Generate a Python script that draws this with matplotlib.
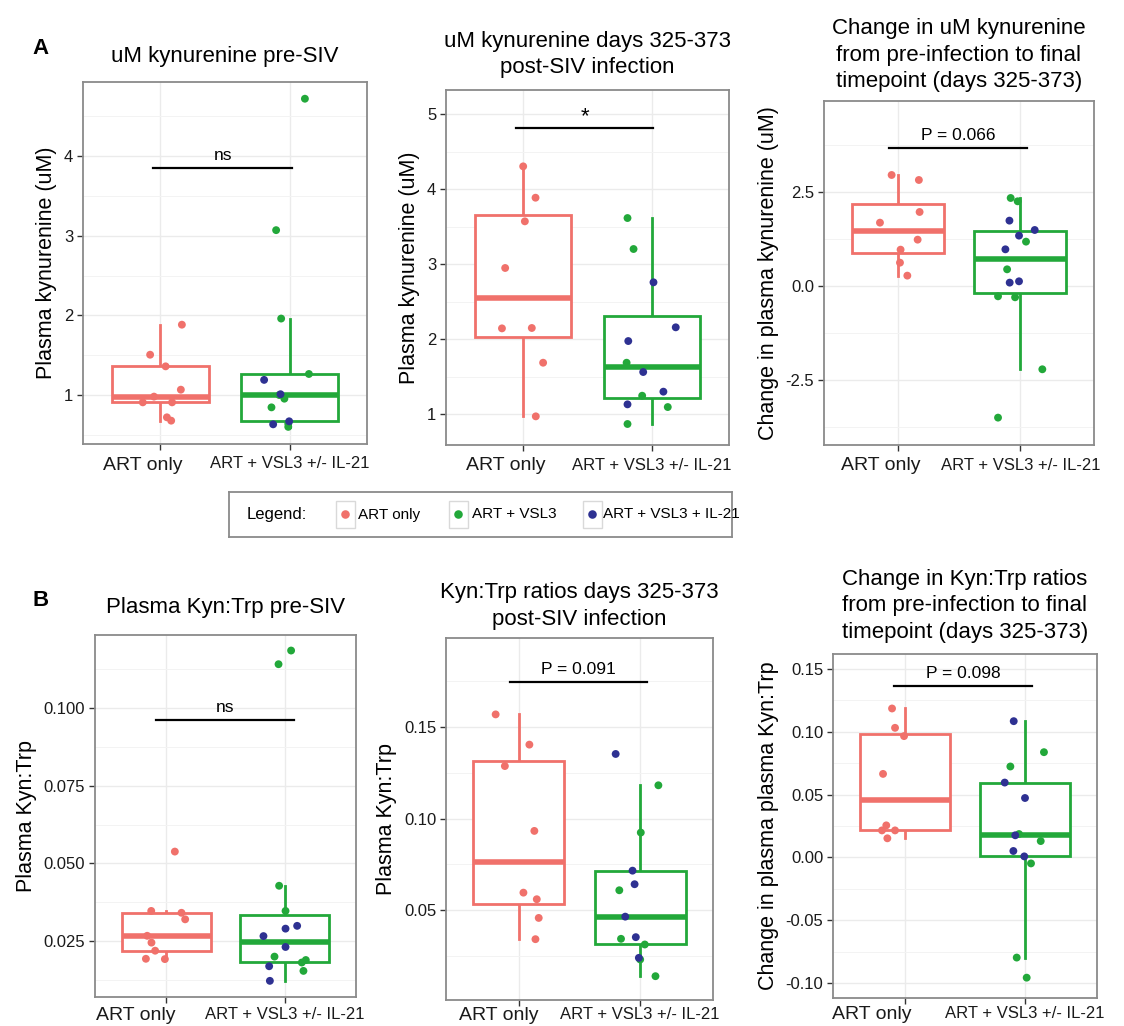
import matplotlib.pyplot as plt
import matplotlib.transforms as mtransforms
from matplotlib.patches import Rectangle
import numpy as np

plt.rcParams['font.family'] = ['Liberation Sans', 'DejaVu Sans']

RED = '#F0716B'
GREEN = '#22A83A'
BLUE = '#2E3192'
W, H = 1124, 1026

categories = ['ART only', 'ART + VSL3 +/- IL-21']
legend_labels = ['ART only', 'ART + VSL3', 'ART + VSL3 + IL-21']

# --- A1 : uM kynurenine pre-SIV
a1_art = [1.883, 1.506, 1.36, 1.067, 0.98, 0.908, 0.908, 0.72, 0.678]
a1_art_dx = [0.166, -0.08, 0.04, 0.158, -0.05, -0.137, 0.09, 0.05, 0.083]
a1_combo = [4.72, 3.07, 1.96, 1.264, 1.19, 1.01, 1.0, 0.954, 0.845, 0.67, 0.64, 0.632, 0.60]
a1_grp = ['G', 'G', 'G', 'G', 'B', 'B', 'G', 'G', 'G', 'B', 'G', 'B', 'G']
a1_combo_dx = [0.119, -0.104, -0.065, 0.15, -0.197, -0.07, -0.08, -0.04, -0.14, -0.003, -0.01, -0.127, -0.01]

# --- A2 : uM kynurenine days 325-373
a2_art = [4.302, 3.884, 3.569, 2.947, 2.142, 2.147, 1.684, 0.969]
a2_art_dx = [0.0, 0.096, 0.013, -0.14, -0.165, 0.067, 0.155, 0.098]
a2_combo = [3.613, 3.2, 2.756, 2.156, 1.973, 1.684, 1.56, 1.298, 1.244, 1.129, 1.093, 0.867]
a2_grp = ['G', 'G', 'B', 'B', 'B', 'G', 'B', 'B', 'G', 'B', 'G', 'G']
a2_combo_dx = [-0.189, -0.142, 0.013, 0.186, -0.183, -0.196, -0.067, 0.09, -0.075, -0.189, 0.124, -0.189]

# --- A3 : change in uM kynurenine
a3_art = [2.952, 2.819, 1.968, 1.684, 1.232, 0.966, 0.62, 0.275]
a3_art_dx = [-0.049, 0.173, 0.179, -0.144, 0.163, 0.024, 0.019, 0.079]
a3_combo = [2.34, 2.252, 1.738, 1.489, 1.339, 1.179, 0.975, 0.443, 0.089, 0.124, -0.275, -0.301, -2.216, -3.502]
a3_grp = ['G', 'G', 'B', 'B', 'B', 'G', 'B', 'G', 'B', 'B', 'G', 'G', 'G', 'G']
a3_combo_dx = [-0.079, -0.022, -0.089, 0.117, -0.011, 0.046, -0.122, -0.108, -0.087, -0.011, -0.182, -0.043, 0.179, -0.182]

# --- B1 : Kyn:Trp pre-SIV
b1_art = [0.0538, 0.0347, 0.0341, 0.0320, 0.0267, 0.0245, 0.0219, 0.0193, 0.0192]
b1_art_dx = [0.073, -0.126, 0.129, 0.16, -0.16, -0.124, -0.093, -0.171, -0.011]
b1_combo = [0.1185, 0.1141, 0.0428, 0.0347, 0.0299, 0.0290, 0.0266, 0.0231, 0.0200, 0.0189, 0.0181, 0.0169, 0.0154, 0.0122]
b1_grp = ['G', 'G', 'G', 'G', 'B', 'B', 'B', 'B', 'G', 'G', 'G', 'B', 'G', 'B']
b1_combo_dx = [0.053, -0.053, -0.048, 0.006, 0.104, 0.006, -0.18, 0.006, -0.087, 0.177, 0.143, -0.132, 0.157, -0.126]

# --- B2 : Kyn:Trp days 325-373
b2_art = [0.1569, 0.1404, 0.1287, 0.0933, 0.0596, 0.0560, 0.0458, 0.0342]
b2_art_dx = [-0.191, 0.087, -0.115, 0.128, 0.038, 0.148, 0.164, 0.137]
b2_combo = [0.1353, 0.1182, 0.0924, 0.0716, 0.0642, 0.0609, 0.0465, 0.0353, 0.0344, 0.0313, 0.0240, 0.0231, 0.0140]
b2_grp = ['B', 'G', 'G', 'B', 'B', 'G', 'B', 'B', 'G', 'G', 'B', 'G', 'G']
b2_combo_dx = [-0.202, 0.15, 0.005, -0.063, -0.046, -0.172, -0.123, -0.036, -0.158, 0.038, -0.011, 0.0, 0.126]

# --- B3 : change in Kyn:Trp
b3_art = [0.1186, 0.1032, 0.0966, 0.0665, 0.0255, 0.0215, 0.0215, 0.0152]
b3_art_dx = [-0.108, -0.083, -0.008, -0.183, -0.156, -0.192, -0.083, -0.147]
b3_combo = [0.1085, 0.0838, 0.0724, 0.0596, 0.0473, 0.0176, 0.0186, 0.0130, 0.0051, 0.0008, -0.0048, -0.0798, -0.0958]
b3_grp = ['B', 'G', 'G', 'B', 'B', 'B', 'G', 'G', 'B', 'B', 'G', 'G', 'G']
b3_combo_dx = [-0.094, 0.158, -0.122, -0.169, 0.0, -0.081, -0.05, 0.131, -0.097, -0.006, 0.05, -0.069, 0.014]

panels = [
    dict(box=(83, 82, 367, 444), data=(a1_art, a1_art_dx, a1_combo, a1_grp, a1_combo_dx),
         title='uM kynurenine pre-SIV', pad=14.5, ylabel='Plasma kynurenine (uM)',
         ylim=(0.385, 4.93), ticks=[1, 2, 3, 4], labels=['1', '2', '3', '4'],
         minor=[0.5, 1.5, 2.5, 3.5, 4.5], sig=(0.946, 2.016, 3.85, 'ns'), xpad=5, xoff=-18),
    dict(box=(446, 90, 729, 445), data=(a2_art, a2_art_dx, a2_combo, a2_grp, a2_combo_dx),
         title='uM kynurenine days 325-373\npost-SIV infection', pad=12, ylabel='Plasma kynurenine (uM)',
         ylim=(0.587, 5.32), ticks=[1, 2, 3, 4, 5], labels=['1', '2', '3', '4', '5'],
         minor=[1.5, 2.5, 3.5, 4.5], sig=(0.946, 2.008, 4.81, '*'), xpad=5, xoff=-17),
    dict(box=(824, 101, 1094, 445), data=(a3_art, a3_art_dx, a3_combo, a3_grp, a3_combo_dx),
         title='Change in uM kynurenine\nfrom pre-infection to final\ntimepoint (days 325-373)', pad=10,
         ylabel='Change in plasma kynurenine (uM)',
         ylim=(-4.23, 4.92), ticks=[-2.5, 0, 2.5], labels=['-2.5', '0.0', '2.5'],
         minor=[-3.75, -1.25, 1.25, 3.75], sig=(0.93, 2.05, 3.67, 'P = 0.066'), xpad=5, xoff=-17),
    dict(box=(95, 635, 356, 997), data=(b1_art, b1_art_dx, b1_combo, b1_grp, b1_combo_dx),
         title='Plasma Kyn:Trp pre-SIV', pad=15.5, ylabel='Plasma Kyn:Trp',
         ylim=(0.007, 0.1235), ticks=[0.025, 0.05, 0.075, 0.1], labels=['0.025', '0.050', '0.075', '0.100'],
         minor=[0.0125, 0.0375, 0.0625, 0.0875, 0.1125], sig=(0.915, 2.08, 0.0961, 'ns'), xpad=3, xoff=-30),
    dict(box=(446, 638, 713, 1000), data=(b2_art, b2_art_dx, b2_combo, b2_grp, b2_combo_dx),
         title='Kyn:Trp ratios days 325-373\npost-SIV infection', pad=9.5, ylabel='Plasma Kyn:Trp',
         ylim=(0.001, 0.1986), ticks=[0.05, 0.1, 0.15], labels=['0.05', '0.10', '0.15'],
         minor=[0.025, 0.075, 0.125, 0.175], sig=(0.926, 2.057, 0.1746, 'P = 0.091'), xpad=1, xoff=-20),
    dict(box=(833, 654, 1097, 998), data=(b3_art, b3_art_dx, b3_combo, b3_grp, b3_combo_dx),
         title='Change in Kyn:Trp ratios\nfrom pre-infection to final\ntimepoint (days 325-373)', pad=11.5,
         ylabel='Change in plasma plasma Kyn:Trp',
         ylim=(-0.112, 0.162), ticks=[-0.1, -0.05, 0, 0.05, 0.1, 0.15],
         labels=['-0.10', '-0.05', '0.00', '0.05', '0.10', '0.15'],
         minor=[-0.075, -0.025, 0.025, 0.075, 0.125], sig=(0.908, 2.058, 0.1365, 'P = 0.098'), xpad=2, xoff=-33),
]

fig = plt.figure(figsize=(W / 100, H / 100), dpi=100)

for p in panels:
    x0, y0, x1, y1 = p['box']
    ax = fig.add_axes([x0 / W, 1 - y1 / H, (x1 - x0) / W, (y1 - y0) / H])
    art, art_dx, combo, grp, combo_dx = p['data']

    # boites
    bp = ax.boxplot([art, combo], positions=[1, 2], widths=0.75, whis=1.5,
                    showfliers=False, showcaps=False, patch_artist=True)
    for i, c in enumerate([RED, GREEN]):
        bp['boxes'][i].set(facecolor='white', edgecolor=c, linewidth=2.0, zorder=2)
        bp['medians'][i].set(color=c, linewidth=4.0, solid_capstyle='butt', zorder=2.1)
        for wsk in bp['whiskers'][2 * i:2 * i + 2]:
            wsk.set(color=c, linewidth=2.0, zorder=1.9)

    # points
    ax.scatter(1 + np.array(art_dx), art, s=32, color=RED, edgecolors='none', zorder=3)
    grp = np.array(grp)
    xs = 2 + np.array(combo_dx)
    vals = np.array(combo)
    for g, c in [('G', GREEN), ('B', BLUE)]:
        m = grp == g
        ax.scatter(xs[m], vals[m], s=32, color=c, edgecolors='none', zorder=3)

    # barre de significativite
    sx1, sx2, sy, lab = p['sig']
    ax.plot([sx1, sx2], [sy, sy], color='black', lw=1.6, zorder=4)
    ax.annotate(lab, ((sx1 + sx2) / 2, sy), xytext=(0, 1 if lab == '*' else 3.5),
                textcoords='offset points', ha='center', va='bottom',
                fontsize=16 if lab == '*' else 12.5)

    ax.set_xlim(0.4, 2.6)
    ax.set_ylim(*p['ylim'])
    ax.set_xticks([1, 2])
    ax.set_xticklabels(categories)
    ax.set_yticks(p['ticks'])
    ax.set_yticklabels(p['labels'], fontsize=12)
    ax.set_yticks(p['minor'], minor=True)
    ax.tick_params(which='major', direction='out', length=4, width=1, color='#333333',
                   labelcolor='#1A1A1A', pad=3)
    ax.tick_params(axis='x', pad=p['xpad'])
    ax.tick_params(which='minor', length=0)
    tl = ax.get_xticklabels()
    tl[0].set_fontsize(14)
    tl[1].set_fontsize(12)
    shift = mtransforms.ScaledTranslation(p['xoff'] / 100, 0, fig.dpi_scale_trans)
    tl[0].set_transform(tl[0].get_transform() + shift)
    ax.set_axisbelow(True)
    ax.grid(which='major', color='#EBEBEB', lw=1.0)
    ax.grid(which='minor', axis='y', color='#F3F3F3', lw=0.7)
    for s in ax.spines.values():
        s.set_color('#8A8A8A')
        s.set_linewidth(1.3)
    ax.set_title(p['title'], fontsize=16, pad=p['pad'], linespacing=1.35)
    ax.set_ylabel(p['ylabel'], fontsize=15.5, labelpad=5)

# lettres des panneaux
fig.text(32 / W, 1 - 48 / H, 'A', fontsize=16, fontweight='bold', va='center')
fig.text(32 / W, 1 - 600 / H, 'B', fontsize=16, fontweight='bold', va='center')

# legende
leg = fig.add_axes([229 / W, 1 - 537 / H, 503 / W, 45 / H])
leg.set_xlim(0, 503)
leg.set_ylim(0, 45)
leg.set_xticks([])
leg.set_yticks([])
for s in leg.spines.values():
    s.set_color('#8A8A8A')
    s.set_linewidth(1.3)
leg.text(18, 22.5, 'Legend:', va='center', fontsize=12)
key_x = [107, 220, 354]
label_x = [129, 243, 374]
for kx, lx, c, lab in zip(key_x, label_x, [RED, GREEN, BLUE], legend_labels):
    leg.add_patch(Rectangle((kx, 9), 19, 27, facecolor='white', edgecolor='#D9D9D9', lw=1))
    leg.scatter([kx + 9.5], [22.5], s=38, color=c, edgecolors='none')
    leg.text(lx, 22.5, lab, va='center', fontsize=11)

plt.savefig('out.png', dpi=100)
